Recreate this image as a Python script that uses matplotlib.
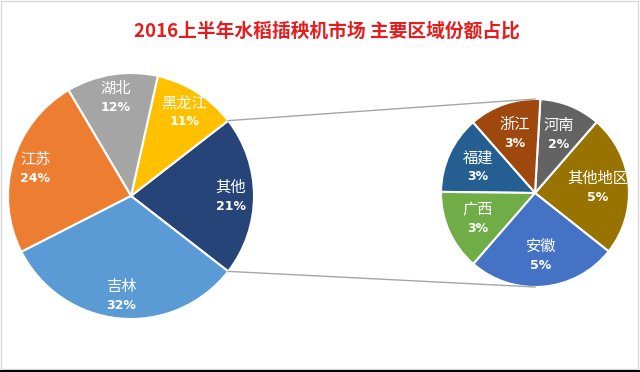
import matplotlib.pyplot as plt
import matplotlib.patches as mpatches
import numpy as np

plt.rcParams['font.family'] = ['Noto Sans CJK SC', 'DejaVu Sans']

# dados - pizza principal
regioes = ['其他', '黑龙江', '湖北', '江苏', '吉林']
partes = [21, 11, 12, 24, 32]
cores = ['#264478', '#FFC000', '#A5A5A5', '#ED7D31', '#5B9BD5']

# dados - pizza secundaria (detalhe de "其他")
regioes2 = ['其他地区', '河南', '浙江', '福建', '广西', '安徽']
partes2 = [5.1, 2.2, 2.6, 2.8, 2.9, 5.4]
cores2 = ['#997300', '#636363', '#9E480E', '#255E91', '#70AD47', '#4472C4']

titulo = '2016上半年水稻插秧机市场 主要区域份额占比'

W, H = 640, 372
fig = plt.figure(figsize=(W / 100, H / 100), dpi=100)
ax = fig.add_axes([0, 0, 1, 1])

c1, r1 = (131, 176), 123
c2, r2 = (535, 179), 94

w1, _ = ax.pie(partes, colors=cores, startangle=-37.8, center=c1, radius=r1,
               wedgeprops=dict(edgecolor='white', linewidth=1.5), frame=True)
w2, _ = ax.pie(partes2, colors=cores2, startangle=-38.4, center=c2, radius=r2,
               wedgeprops=dict(edgecolor='white', linewidth=1.5), frame=True)
ax.set_xlim(0, W)
ax.set_ylim(0, H)
ax.set_aspect('equal')
ax.axis('off')


def rotulos(wedges, nomes, valores, centro, raio, dist):
    for w, nome, v in zip(wedges, nomes, valores):
        ang = np.deg2rad((w.theta1 + w.theta2) / 2)
        x = centro[0] + dist * raio * np.cos(ang)
        y = centro[1] + dist * raio * np.sin(ang)
        ax.text(x, y + 9, nome, color='white', fontsize=11,
                ha='center', va='center')
        ax.text(x, y - 10, '%d%%' % round(v), color='white', fontsize=9,
                fontweight='bold', family='DejaVu Sans',
                ha='center', va='center')


rotulos(w1, regioes, partes, c1, r1, 0.81)
rotulos(w2, regioes2, partes2, c2, r2, 0.67)

# linhas de ligacao entre as pizzas
t1 = np.deg2rad(w1[0].theta2)
t0 = np.deg2rad(w1[0].theta1)
ax.plot([c1[0] + r1 * np.cos(t1), c2[0]], [c1[1] + r1 * np.sin(t1), c2[1] + r2],
        color='#A6A6A6', lw=1)
ax.plot([c1[0] + r1 * np.cos(t0), c2[0]], [c1[1] + r1 * np.sin(t0), c2[1] - r2],
        color='#A6A6A6', lw=1)

ax.text(327, H - 31, titulo, color='#E41E1E', fontsize=13.5,
        fontweight='bold', ha='center', va='center')

# moldura
fig.patches.append(mpatches.Rectangle((0.002, 0.008), 0.995, 0.99, transform=fig.transFigure,
                                      fill=False, edgecolor='#D9D9D9', lw=1))
fig.patches.append(mpatches.Rectangle((0, 0), 1, 0.005, transform=fig.transFigure,
                                      facecolor='black', edgecolor='none'))

fig.savefig('out.png', dpi=100)
